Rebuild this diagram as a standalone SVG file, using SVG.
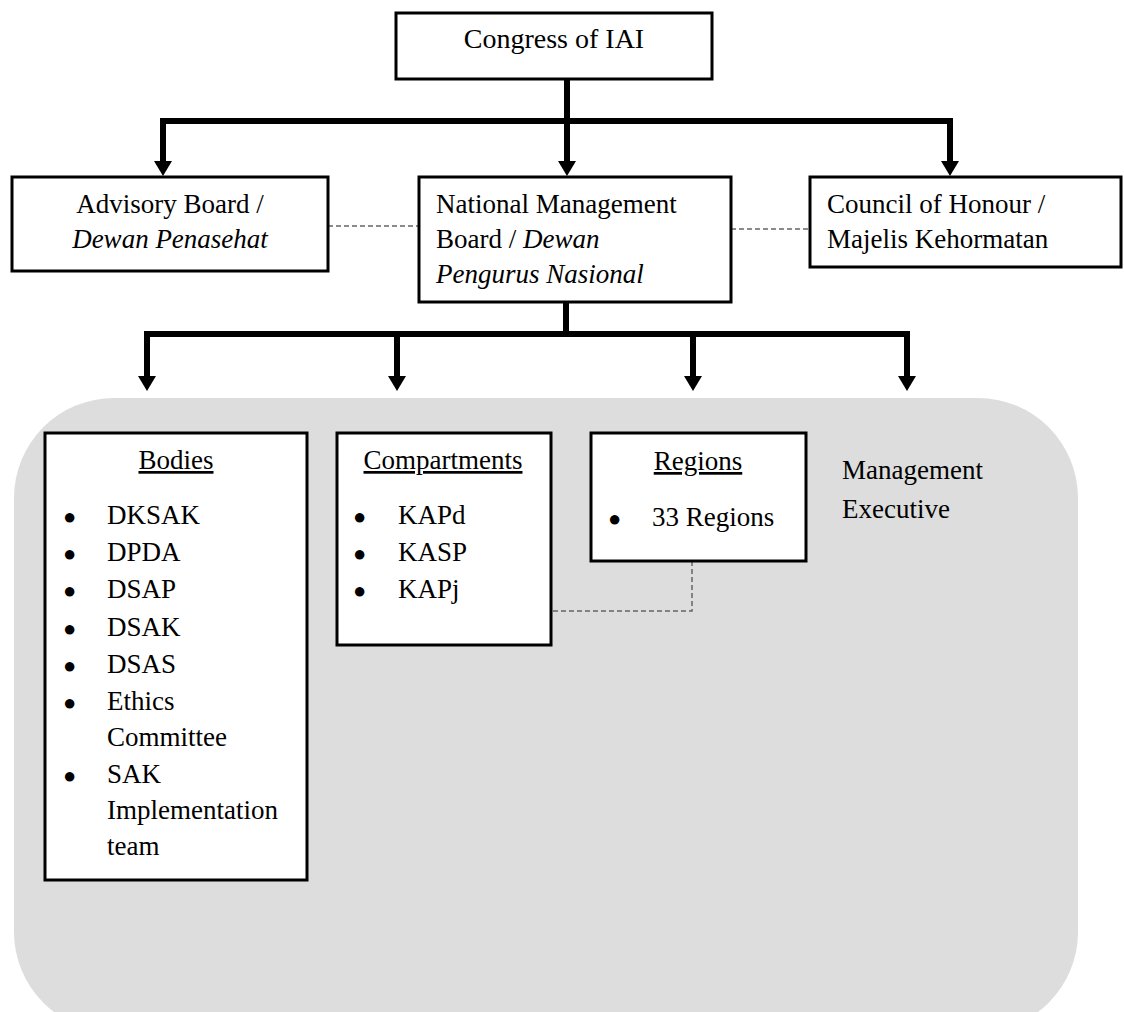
<svg xmlns="http://www.w3.org/2000/svg" width="1124" height="1012" viewBox="0 0 1124 1012">
<style>
  .box { fill: #ffffff; stroke: #000000; stroke-width: 3; }
  text { font-family: 'Liberation Serif', 'Tinos', 'DejaVu Serif', serif; font-size: 27px; fill: #000000; }
  .c { text-anchor: middle; }
  .i { font-style: italic; }
  .u { text-decoration: underline; }
  .b { font-size: 22px; }
  .thick { stroke: #000000; stroke-width: 6; fill: none; }
  .dash { stroke: #666666; stroke-width: 1.5; stroke-dasharray: 5 3; fill: none; }
  .head { fill: #000000; }
</style>
<defs>
  <marker id="arr" markerUnits="userSpaceOnUse" viewBox="0 -9 15 18" markerWidth="15" markerHeight="18" refX="0" refY="0" orient="auto">
    <path d="M0,-9 L15,0 L0,9 z" class="head"/>
  </marker>
</defs>

<rect id="management-executive-area" x="14" y="398" width="1064" height="634" rx="100" ry="100" fill="#dddddd"/>

<g id="connectors">
  <line class="thick" x1="567" y1="79" x2="567" y2="161" marker-end="url(#arr)"/>
  <line class="thick" x1="160" y1="121" x2="953" y2="121"/>
  <line class="thick" x1="163" y1="121" x2="163" y2="161" marker-end="url(#arr)"/>
  <line class="thick" x1="950" y1="121" x2="950" y2="161" marker-end="url(#arr)"/>
  <line class="thick" x1="566" y1="302" x2="566" y2="334"/>
  <line class="thick" x1="144" y1="334" x2="910" y2="334"/>
  <line class="thick" x1="147" y1="334" x2="147" y2="376" marker-end="url(#arr)"/>
  <line class="thick" x1="397" y1="334" x2="397" y2="376" marker-end="url(#arr)"/>
  <line class="thick" x1="693" y1="334" x2="693" y2="376" marker-end="url(#arr)"/>
  <line class="thick" x1="907" y1="334" x2="907" y2="376" marker-end="url(#arr)"/>
  <line class="dash" x1="328" y1="226" x2="419" y2="226"/>
  <line class="dash" x1="731" y1="229" x2="810" y2="229"/>
  <polyline class="dash" points="692,561 692,611 552,611"/>
</g>

<g id="congress">
  <rect class="box" x="396" y="13" width="316" height="66"/>
  <text class="c" x="554" y="48" style="font-size:28px">Congress of IAI</text>
</g>

<g id="advisory-board">
  <rect class="box" x="12" y="177" width="316" height="94"/>
  <text class="c" x="170" y="213">Advisory Board /</text>
  <text class="c i" x="170" y="248">Dewan Penasehat</text>
</g>

<g id="national-management-board">
  <rect class="box" x="419" y="177" width="312" height="125"/>
  <text x="436" y="213">National Management</text>
  <text x="436" y="248">Board / <tspan class="i">Dewan</tspan></text>
  <text class="i" x="436" y="283">Pengurus Nasional</text>
</g>

<g id="council-of-honour">
  <rect class="box" x="810" y="177" width="311" height="90"/>
  <text x="827" y="213">Council of Honour /</text>
  <text x="827" y="248">Majelis Kehormatan</text>
</g>

<g id="bodies">
  <rect class="box" x="45" y="433" width="262" height="447"/>
  <text class="c u" x="176" y="469">Bodies</text>
  <text class="b" x="63" y="524">●</text><text x="107" y="524">DKSAK</text>
  <text class="b" x="63" y="561">●</text><text x="107" y="561">DPDA</text>
  <text class="b" x="63" y="598">●</text><text x="107" y="598">DSAP</text>
  <text class="b" x="63" y="636">●</text><text x="107" y="636">DSAK</text>
  <text class="b" x="63" y="673">●</text><text x="107" y="673">DSAS</text>
  <text class="b" x="63" y="710">●</text><text x="107" y="710">Ethics</text>
  <text x="107" y="746">Committee</text>
  <text class="b" x="63" y="783">●</text><text x="107" y="783">SAK</text>
  <text x="107" y="819">Implementation</text>
  <text x="107" y="855">team</text>
</g>

<g id="compartments">
  <rect class="box" x="337" y="433" width="214" height="212"/>
  <text class="c u" x="443" y="469">Compartments</text>
  <text class="b" x="353" y="524">●</text><text x="398" y="524">KAPd</text>
  <text class="b" x="353" y="561">●</text><text x="398" y="561">KASP</text>
  <text class="b" x="353" y="598">●</text><text x="398" y="598">KAPj</text>
</g>

<g id="regions">
  <rect class="box" x="591" y="433" width="215" height="128"/>
  <text class="c u" x="698" y="470">Regions</text>
  <text class="b" x="608" y="526">●</text><text x="652" y="526">33 Regions</text>
</g>

<g id="management-executive-label">
  <text x="842" y="479">Management</text>
  <text x="842" y="518">Executive</text>
</g>
</svg>
